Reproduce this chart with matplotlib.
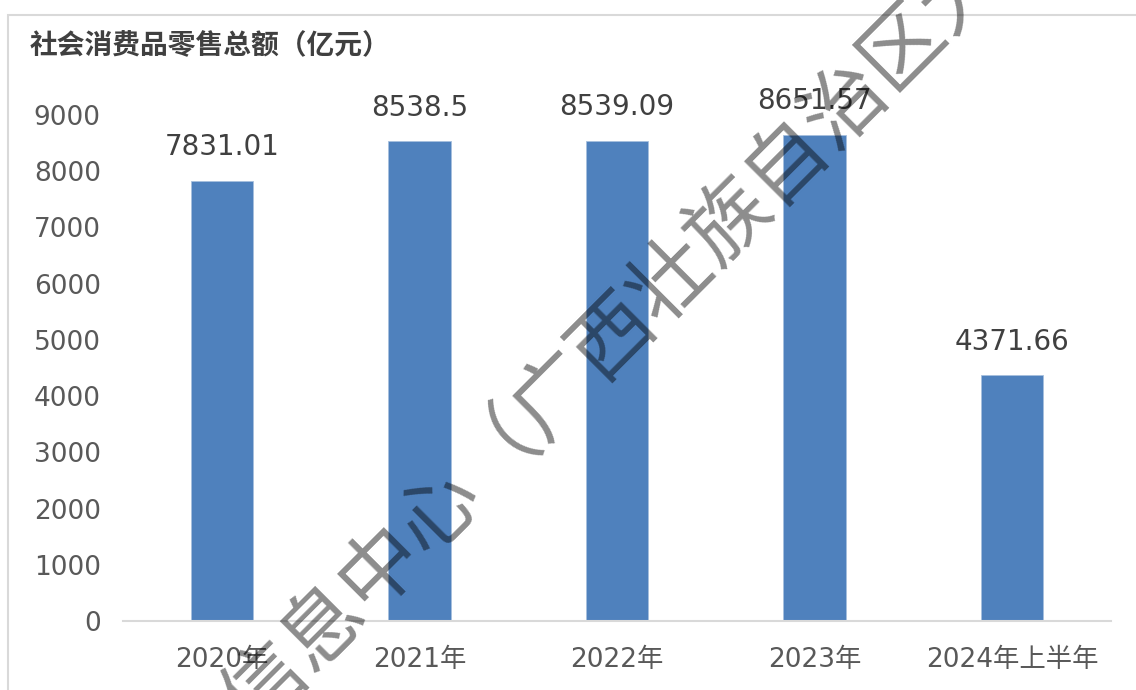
import matplotlib
matplotlib.use("Agg")
import matplotlib.pyplot as plt
from matplotlib.patches import Rectangle
import numpy as np

plt.rcParams['font.family'] = ['DejaVu Sans', 'Noto Sans CJK SC']

labels = ['2020年', '2021年', '2022年', '2023年', '2024年上半年']
values = [7831.01, 8538.5, 8539.09, 8651.57, 4371.66]
value_text = ['7831.01', '8538.5', '8539.09', '8651.57', '4371.66']
yticks = [0, 1000, 2000, 3000, 4000, 5000, 6000, 7000, 8000, 9000]

fig = plt.figure(figsize=(11.36, 6.9), dpi=100)
ax = fig.add_axes([0.1083, 0.1, 0.8697, 0.7333])

x = np.arange(len(labels))
ax.bar(x, values, 0.315, color='#4f81bd', edgecolor='#a7c0de', linewidth=0.6, zorder=2)

for xi, v, t in zip(x, values, value_text):
    ax.annotate(t, (xi, v), xytext=(0, 14), textcoords='offset points',
                ha='center', va='bottom', fontsize=20, color='#404040',
                annotation_clip=False)

ax.set_xlim(-0.5, len(labels) - 0.5)
ax.set_ylim(0, 9000)
ax.set_yticks(yticks)
ax.set_xticks(x)
ax.set_xticklabels(labels)
ax.tick_params(axis='y', length=0, pad=16, labelsize=19, labelcolor='#595959')
ax.tick_params(axis='x', length=0, pad=19, labelsize=19, labelcolor='#595959')

for s in ['top', 'right', 'left']:
    ax.spines[s].set_visible(False)
ax.spines['bottom'].set_color('#d9d9d9')
ax.spines['bottom'].set_linewidth(1.5)

# chart frame
fig.patches.append(Rectangle((8 / 1136, -0.1), 1.2, 1.1 - 15 / 690,
                             transform=fig.transFigure, fill=False,
                             edgecolor='#d9d9d9', linewidth=1.5))

fig.text(30 / 1136, 1 - 46 / 690, '社会消费品零售总额（亿元）',
         family=['Noto Sans CJK SC', 'DejaVu Sans'], fontsize=20,
         fontweight='bold', color='#404040', ha='left', va='center')

# watermark
fig.text(-168 / 1136, 1 - 1120 / 690,
         '广西壮族自治区信息中心（广西壮族自治区大数据研究院）',
         family=['Noto Sans CJK SC'], fontsize=59, fontweight='light',
         color='black', alpha=0.45, rotation=45, rotation_mode='anchor',
         ha='left', va='center', zorder=10)

plt.savefig('out.png', dpi=100)
